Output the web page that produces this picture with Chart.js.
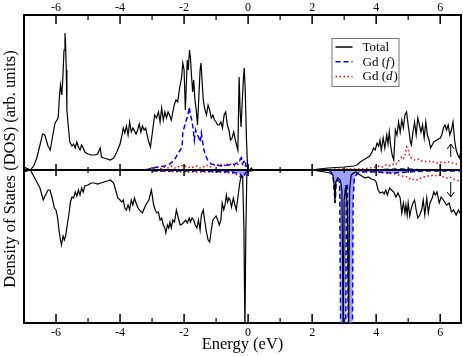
<!DOCTYPE html>
<html>
<head>
<meta charset="utf-8">
<title>Gd DOS</title>
<script src="https://cdn.jsdelivr.net/npm/chart.js@4.4.1/dist/chart.umd.min.js"></script>
<style>
    html, body { margin: 0; padding: 0; background: #fff; }
    #wrap { width: 463px; height: 356px; position: relative; }
</style>
</head>
<body>
<div id="wrap"><canvas id="dosChart"></canvas></div>
<script>
// ---- data (energy in eV, DOS in arb. units) ----
const xTicks = [-6, -4, -2, 0, 2, 4, 6];
const xMinorTicks = [-7, -5, -3, -1, 1, 3, 5];

// Total, spin up
const totalUpE = [-7.0, -6.8, -6.7, -6.6, -6.5, -6.42, -6.35, -6.25, -6.18, -6.1, -6.03, -5.97, -5.93, -5.9, -5.86, -5.82, -5.79, -5.75, -5.72, -5.7, -5.68, -5.66, -5.62, -5.57, -5.5, -5.45, -5.4, -5.35, -5.3, -5.25, -5.2, -5.15, -5.1, -5.0, -4.9, -4.8, -4.7, -4.62, -4.58, -4.5, -4.4, -4.3, -4.2, -4.1, -4.0, -3.95, -3.9, -3.85, -3.8, -3.75, -3.7, -3.65, -3.6, -3.5, -3.45, -3.4, -3.35, -3.3, -3.25, -3.2, -3.12, -3.05, -2.98, -2.92, -2.86, -2.8, -2.75, -2.7, -2.65, -2.6, -2.55, -2.5, -2.45, -2.4, -2.35, -2.3, -2.25, -2.2, -2.14, -2.08, -2.04, -2.0, -1.96, -1.93, -1.9, -1.87, -1.83, -1.8, -1.77, -1.73, -1.7, -1.66, -1.62, -1.58, -1.55, -1.5, -1.47, -1.44, -1.4, -1.36, -1.3, -1.25, -1.2, -1.15, -1.1, -1.05, -1.0, -0.95, -0.9, -0.85, -0.8, -0.75, -0.7, -0.65, -0.6, -0.55, -0.5, -0.45, -0.4, -0.36, -0.32, -0.28, -0.25, -0.22, -0.18, -0.14, -0.12, -0.09, -0.05, -0.02, 0.0, 0.05, 0.1, 0.15, 2.0, 2.2, 2.5, 3.0, 3.3, 3.4, 3.5, 3.6, 3.7, 3.8, 3.87, 3.92, 3.97, 4.03, 4.08, 4.12, 4.16, 4.22, 4.27, 4.33, 4.37, 4.41, 4.45, 4.5, 4.55, 4.6, 4.65, 4.7, 4.75, 4.8, 4.85, 4.9, 4.95, 5.0, 5.03, 5.07, 5.1, 5.15, 5.2, 5.25, 5.3, 5.35, 5.4, 5.45, 5.5, 5.55, 5.6, 5.65, 5.7, 5.75, 5.8, 5.9, 6.0, 6.05, 6.1, 6.15, 6.2, 6.25, 6.3, 6.35, 6.4, 6.45, 6.5, 6.55, 6.6, 6.65];
const totalUp = [3, 0, 4, 12, 25, 36, 35, 24, 20, 35, 47, 50, 53, 70, 85, 75, 90, 120, 137, 125, 100, 60, 45, 28, 24, 26, 22, 28, 23, 20, 25, 22, 18, 16, 15, 15, 16, 22, 13, 12, 11, 10, 12, 18, 26, 33, 42, 37, 44, 35, 48, 38, 42, 36, 40, 46, 38, 44, 40, 42, 30, 23, 40, 55, 52, 58, 48, 62, 50, 58, 52, 58, 55, 50, 58, 66, 70, 68, 82, 92, 107, 100, 60, 85, 110, 100, 120, 112, 95, 78, 90, 70, 60, 45, 65, 100, 107, 90, 70, 62, 55, 65, 60, 52, 55, 50, 48, 45, 45, 48, 42, 55, 58, 45, 40, 30, 32, 38, 30, 25, 20, 93, 60, 43, 70, 95, 102, 80, 30, 5, 1, 0, 2, 0, 0, 1, 2, 3, 4, 5, 8, 10, 12, 14, 18, 22, 20, 27, 24, 30, 20, 32, 22, 35, 26, 38, 25, 15, 10, 40, 35, 48, 38, 50, 42, 55, 58, 45, 38, 28, 25, 38, 48, 35, 52, 45, 38, 45, 32, 48, 35, 30, 22, 25, 28, 30, 32, 35, 42, 45, 40, 45, 35, 40, 48, 30, 20, 15, 12, 20];

// Total, spin down
const totalDownE = [-7.0, -6.8, -6.7, -6.6, -6.5, -6.4, -6.33, -6.25, -6.19, -6.12, -6.05, -6.0, -5.95, -5.9, -5.86, -5.83, -5.78, -5.74, -5.7, -5.65, -5.6, -5.55, -5.5, -5.45, -5.4, -5.35, -5.3, -5.25, -5.2, -5.15, -5.1, -5.0, -4.9, -4.8, -4.7, -4.6, -4.5, -4.4, -4.3, -4.2, -4.12, -4.07, -4.0, -3.95, -3.9, -3.85, -3.8, -3.75, -3.7, -3.65, -3.6, -3.55, -3.5, -3.45, -3.4, -3.3, -3.2, -3.1, -3.02, -2.95, -2.9, -2.85, -2.8, -2.75, -2.7, -2.65, -2.6, -2.57, -2.52, -2.48, -2.44, -2.4, -2.35, -2.3, -2.24, -2.18, -2.12, -2.06, -2.0, -1.95, -1.9, -1.84, -1.8, -1.75, -1.7, -1.65, -1.6, -1.55, -1.5, -1.46, -1.4, -1.35, -1.3, -1.25, -1.2, -1.15, -1.1, -1.05, -1.0, -0.95, -0.9, -0.85, -0.81, -0.76, -0.72, -0.68, -0.64, -0.6, -0.56, -0.52, -0.46, -0.42, -0.37, -0.32, -0.27, -0.22, -0.17, -0.13, -0.1, -0.07, -0.04, -0.02, 0.0, 0.1, 0.2, 2.0, 2.2, 2.4, 2.55, 2.65, 2.69, 2.71, 2.74, 2.8, 2.88, 2.93, 2.97, 3.0, 3.05, 3.1, 3.14, 3.17, 3.22, 3.3, 3.36, 3.45, 3.55, 3.65, 3.75, 3.85, 3.95, 4.0, 4.06, 4.12, 4.2, 4.25, 4.3, 4.35, 4.42, 4.48, 4.55, 4.62, 4.68, 4.75, 4.8, 4.85, 4.9, 4.93, 4.97, 5.0, 5.05, 5.1, 5.15, 5.2, 5.25, 5.3, 5.36, 5.42, 5.47, 5.52, 5.58, 5.63, 5.68, 5.75, 5.8, 5.85, 5.9, 5.97, 6.03, 6.1, 6.2, 6.28, 6.35, 6.42, 6.5, 6.57, 6.65];
const totalDown = [-2, 0, -6, -12, -18, -30, -25, -20, -20, -28, -38, -40, -48, -62, -70, -75, -66, -70, -66, -55, -45, -32, -27, -28, -22, -26, -20, -25, -18, -22, -16, -15, -13, -13, -14, -13, -12, -11, -10, -13, -22, -28, -30, -32, -30, -38, -40, -35, -40, -30, -35, -28, -33, -37, -40, -43, -35, -30, -20, -35, -40, -43, -42, -50, -48, -55, -58, -63, -55, -58, -52, -58, -50, -52, -40, -48, -55, -54, -52, -50, -53, -48, -52, -48, -50, -55, -58, -50, -60, -45, -40, -52, -62, -70, -72, -60, -50, -48, -46, -50, -55, -50, -33, -40, -35, -25, -32, -28, -30, -37, -28, -34, -40, -28, -15, -6, -8, -60, -160, -60, -5, -2, -1, -1, 0, 0, -1, -2, -3, -5, -15, -33, -12, -8, -10, -20, -160, -30, -15, -40, -160, -20, -5, -3, -2, -4, -6, -8, -7, -9, -10, -12, -20, -23, -22, -24, -20, -25, -18, -20, -22, -27, -23, -28, -43, -33, -43, -35, -45, -33, -46, -38, -33, -30, -40, -48, -45, -40, -30, -45, -28, -43, -33, -28, -22, -25, -22, -33, -27, -30, -35, -33, -42, -40, -45, -40, -45];

// Gd (f), spin up / down
const gdFUpE = [-3.2, -3.0, -2.8, -2.6, -2.45, -2.3, -2.2, -2.12, -2.06, -2.04, -2.0, -1.95, -1.9, -1.86, -1.84, -1.8, -1.76, -1.72, -1.68, -1.64, -1.6, -1.55, -1.5, -1.46, -1.42, -1.38, -1.32, -1.25, -1.15, -1.0, -0.8, -0.6, -0.4, -0.3, -0.22, -0.18, -0.1, -0.05, 0.0, 0.2, 4.0, 4.6, 5.0, 5.5, 6.65];
const gdFUp = [0, 2, 3, 4, 6, 10, 16, 20, 23, 38, 42, 48, 53, 58, 63, 55, 50, 42, 30, 40, 36, 33, 28, 37, 28, 20, 14, 9, 6, 5, 4, 5, 6, 8, 12, 6, 10, 2, 0, 0, 0, 1, 1, 0, 0];
const gdFDownE = [-3.0, -1.5, -0.5, -0.25, -0.15, -0.08, 0.0, 2.5, 2.6, 2.65, 2.69, 2.72, 2.75, 2.8, 2.86, 2.89, 3.05, 3.07, 3.1, 3.13, 3.26, 3.28, 3.32, 3.4, 3.5, 4.0, 4.5, 5.0, 5.5, 6.65];
const gdFDown = [-1, -1, -2, -4, -8, -3, 0, 0, -2, -6, -20, -33, -14, -10, -12, -160, -160, -20, -14, -160, -160, -30, -8, -4, -2, -2, -3, -2, -1, -1];

// Gd (d), spin up / down
const gdDUpE = [-3.2, -3.0, -2.9, -2.8, -2.7, -2.6, -2.5, -2.4, -2.3, -2.2, -2.1, -2.0, -1.9, -1.8, -1.7, -1.6, -1.5, -1.4, -1.3, -1.2, -1.1, -1.0, -0.9, -0.8, -0.7, -0.6, -0.5, -0.4, -0.3, -0.25, -0.2, -0.15, -0.1, -0.05, 0.0, 2.0, 3.0, 3.5, 3.8, 4.0, 4.1, 4.2, 4.3, 4.4, 4.5, 4.6, 4.7, 4.8, 4.85, 4.9, 4.95, 5.0, 5.05, 5.1, 5.2, 5.3, 5.4, 5.5, 5.6, 5.7, 5.8, 5.9, 6.0, 6.1, 6.2, 6.3, 6.4, 6.5, 6.6];
const gdDUp = [0, 2, 1, 3, 1, 3, 2, 4, 2, 3, 5, 3, 4, 2, 3, 4, 2, 3, 5, 3, 4, 6, 4, 6, 4, 7, 5, 4, 6, 10, 12, 8, 5, 2, 0, 0, 1, 1, 2, 3, 4, 3, 5, 4, 6, 5, 9, 13, 11, 15, 23, 21, 13, 12, 10, 11, 9, 9, 8, 9, 8, 7, 8, 7, 8, 8, 7, 6, 5];
const gdDDownE = [-3.0, -2.0, -1.0, -0.5, -0.3, -0.2, -0.15, -0.1, 0.0, 3.0, 3.5, 4.0, 4.3, 4.6, 4.8, 5.0, 5.1, 5.2, 5.3, 5.4, 5.5, 5.6, 5.7, 5.8, 5.9, 6.0, 6.1, 6.2, 6.3, 6.4, 6.5, 6.6];
const gdDDown = [-1, -2, -2, -3, -5, -8, -4, -2, 0, 0, -1, -2, -3, -4, -6, -7, -10, -9, -10, -8, -7, -6, -6, -5, -6, -5, -7, -8, -7, -9, -10, -11];

// spin arrows: energy, [from, to] for up and down channel
const arrowE = 6.33;
const arrowUp = [13, 26];
const arrowDown = [-12, -27];

const legendLabels = ['Total', 'Gd (f)', 'Gd (d)'];

// ---- helpers ----
function pts(xs, ys) {
    return xs.map((x, i) => ({ x: x, y: ys[i] }));
}

const SERIF = '"Liberation Serif", "Times New Roman", serif';

// ---- plugins ----
const frameTicks = {
    id: 'frameTicks',
    afterDatasetsDraw(chart) {
        const ctx = chart.ctx;
        const a = chart.chartArea;
        const xs = chart.scales.x;
        const y0 = chart.scales.y.getPixelForValue(0);
        ctx.save();
        ctx.strokeStyle = '#000';
        // zero line
        ctx.lineWidth = 2;
        ctx.beginPath();
        ctx.moveTo(a.left, y0);
        ctx.lineTo(a.right, y0);
        ctx.stroke();

        const mark = (vals, len, mid) => {
            vals.forEach(v => {
                const px = xs.getPixelForValue(v);
                if (px < a.left + 1 || px > a.right - 1) return;
                ctx.beginPath();
                ctx.moveTo(px, a.top);
                ctx.lineTo(px, a.top + len);
                ctx.moveTo(px, a.bottom);
                ctx.lineTo(px, a.bottom - len);
                ctx.moveTo(px, y0 - mid);
                ctx.lineTo(px, y0 + mid);
                ctx.stroke();
            });
        };
        ctx.lineWidth = 1.5;
        mark(xTicks, 9, 6);
        ctx.lineWidth = 1.2;
        mark(xMinorTicks, 5, 3);

        // spin arrows
        const ys = chart.scales.y;
        const ax = xs.getPixelForValue(arrowE);
        ctx.lineWidth = 1;
        [arrowUp, arrowDown].forEach(pair => {
            const p0 = ys.getPixelForValue(pair[0]);
            const p1 = ys.getPixelForValue(pair[1]);
            const dir = p1 < p0 ? 1 : -1;
            ctx.beginPath();
            ctx.moveTo(ax, p0);
            ctx.lineTo(ax, p1);
            ctx.moveTo(ax - 3.5, p1 + dir * 5);
            ctx.lineTo(ax, p1);
            ctx.lineTo(ax + 3.5, p1 + dir * 5);
            ctx.stroke();
        });
        ctx.restore();
    }
};

const legendBox = {
    id: 'legendBox',
    afterDraw(chart) {
        const ctx = chart.ctx;
        const a = chart.chartArea;
        const bx = a.right - 129.5, by = a.top + 23, bw = 67, bh = 48;
        ctx.save();
        ctx.fillStyle = '#fff';
        ctx.fillRect(bx, by, bw, bh);
        ctx.strokeStyle = '#777';
        ctx.lineWidth = 1;
        ctx.strokeRect(bx + 0.5, by + 0.5, bw, bh);
        const sample = [chart.data.datasets[0], chart.data.datasets[2], chart.data.datasets[4]];
        legendLabels.forEach((lab, i) => {
            const ds = sample[i];
            const ly = by + 9 + i * 14.7;
            ctx.strokeStyle = ds.borderColor;
            ctx.lineWidth = 1.5;
            ctx.setLineDash(ds.borderDash || []);
            ctx.beginPath();
            ctx.moveTo(bx + 4, ly);
            ctx.lineTo(bx + 21, ly);
            ctx.stroke();
            ctx.setLineDash([]);
            // text, with the orbital letter in italics
            ctx.fillStyle = '#000';
            ctx.textBaseline = 'middle';
            let tx = bx + 31;
            const m = lab.match(/^(.*\()(.*)(\).*)$/);
            const parts = m ? [[m[1], ''], [m[2], 'italic '], [m[3], '']] : [[lab, '']];
            parts.forEach(p => {
                ctx.font = p[1] + '13px ' + SERIF;
                ctx.fillText(p[0], tx, ly + 0.5);
                tx += ctx.measureText(p[0]).width + (p[1] ? 1 : 0);
            });
        });
        ctx.restore();
    }
};

// ---- chart ----
const ctx = document.getElementById('dosChart').getContext('2d');

const lineBase = { pointRadius: 0, tension: 0, fill: false, spanGaps: true };

new Chart(ctx, {
    type: 'line',
    data: {
        datasets: [
            Object.assign({ label: 'Total', data: pts(totalUpE, totalUp), borderColor: '#000', borderWidth: 1.2 }, lineBase),
            Object.assign({ label: 'Total down', data: pts(totalDownE, totalDown), borderColor: '#000', borderWidth: 1.2 }, lineBase),
            Object.assign({ label: 'Gd (f)', data: pts(gdFUpE, gdFUp), borderColor: '#0000ff', borderWidth: 1.5, borderDash: [5, 3] }, lineBase),
            Object.assign({}, lineBase, { label: 'Gd (f) down', data: pts(gdFDownE, gdFDown), borderColor: '#0000ff', borderWidth: 1.5, borderDash: [5, 3], fill: 'origin', backgroundColor: 'rgba(120, 120, 255, 0.7)' }),
            Object.assign({ label: 'Gd (d)', data: pts(gdDUpE, gdDUp), borderColor: '#ff0000', borderWidth: 1.5, borderDash: [1.5, 2.5] }, lineBase),
            Object.assign({ label: 'Gd (d) down', data: pts(gdDDownE, gdDDown), borderColor: '#ff0000', borderWidth: 1.5, borderDash: [1.5, 2.5] }, lineBase)
        ]
    },
    options: {
        responsive: true,
        maintainAspectRatio: false,
        animation: false,
        events: [],
        layout: { padding: 0 },
        plugins: {
            legend: { display: false },
            tooltip: { enabled: false }
        },
        scales: {
            x: {
                type: 'linear',
                position: 'bottom',
                min: -7,
                max: 6.65,
                afterBuildTicks: s => { s.ticks = xTicks.map(v => ({ value: v })); },
                afterFit: s => { s.height = 33; },
                grid: { display: false, drawTicks: false },
                border: { display: true, color: '#000', width: 2 },
                ticks: { color: '#000', padding: 3, font: { family: SERIF, size: 12 }, maxRotation: 0 },
                title: { display: true, text: 'Energy (eV)', color: '#000', padding: { top: 0, bottom: 1 }, font: { family: SERIF, size: 16.5 } }
            },
            x2: {
                type: 'linear',
                position: 'top',
                min: -7,
                max: 6.65,
                afterBuildTicks: s => { s.ticks = xTicks.map(v => ({ value: v })); },
                afterFit: s => { s.height = 15; },
                grid: { display: false, drawTicks: false },
                border: { display: true, color: '#000', width: 2 },
                ticks: { color: '#000', padding: 0, font: { family: SERIF, size: 12 }, maxRotation: 0 }
            },
            y: {
                type: 'linear',
                position: 'left',
                min: -153,
                max: 155,
                afterFit: s => { s.width = 24; },
                grid: { display: false, drawTicks: false },
                border: { display: true, color: '#000', width: 2 },
                ticks: { display: false },
                title: { display: true, text: 'Density of States (DOS) (arb. units)', color: '#000', padding: { top: 1, bottom: 0 }, font: { family: SERIF, size: 16.5 } }
            },
            y2: {
                type: 'linear',
                position: 'right',
                display: true,
                min: -153,
                max: 155,
                afterFit: s => { s.width = 2; },
                grid: { display: false, drawTicks: false },
                border: { display: true, color: '#000', width: 2 },
                ticks: { display: false }
            }
        }
    },
    plugins: [frameTicks, legendBox]
});
</script>
</body>
</html>
